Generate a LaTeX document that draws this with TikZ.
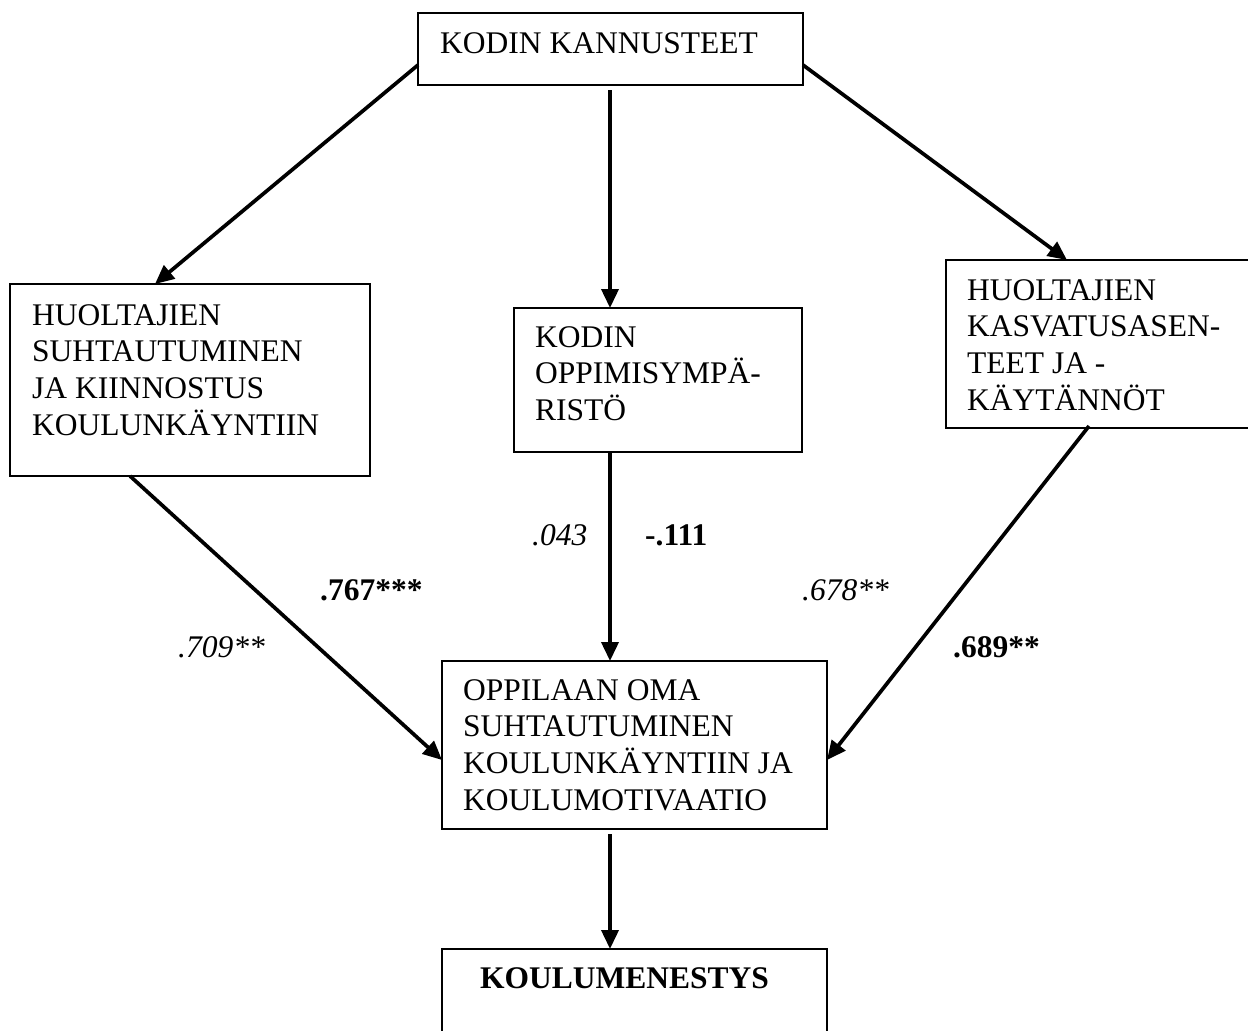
\documentclass[tikz,border=0pt]{standalone}
\usepackage{fontspec}
\setmainfont{Liberation Serif}
\usetikzlibrary{arrows.meta,calc}
\tikzset{
  box/.style={draw, line width=1.8pt, rectangle, inner sep=0pt, outer sep=0pt, anchor=north west},
  boxtext/.style={inner sep=0pt, anchor=base west},
  conn/.style={line width=3.7pt, -{Triangle[length=19pt,width=17pt]}},
  lbl/.style={inner sep=0pt, anchor=base west},
}
\newcommand{\lines}[1]{\begin{tabular}[t]{@{}l@{}}#1\end{tabular}}
\begin{document}
\begin{tikzpicture}[x=1pt,y=-1pt,font=\fontsize{31.5}{36.7}\selectfont]
\clip (0,0) rectangle (1248,1031);
\useasboundingbox (0,0) rectangle (1248,1031);
\fill[white] (0,0) rectangle (1248,1031);

% boxes
\node[box, minimum width=385pt, minimum height=72pt] (b0) at (418,13) {};
\node[box, minimum width=360pt, minimum height=192pt] (b1) at (10,284) {};
\node[box, minimum width=288pt, minimum height=144pt] (b2) at (514,308) {};
\node[box, minimum width=320pt, minimum height=168pt] (b3) at (946,260) {};
\node[box, minimum width=385pt, minimum height=168pt] (b4) at (442,661) {};
\node[box, minimum width=385pt, minimum height=120pt] (b5) at (442,949) {};

% box texts
\node[boxtext] (t0) at (440,53) {KODIN KANNUSTEET};
\node[boxtext] (t1) at (32,325) {\lines{HUOLTAJIEN\\SUHTAUTUMINEN\\JA KIINNOSTUS\\KOULUNKÄYNTIIN}};
\node[boxtext] (t2) at (535,347) {\lines{KODIN\\OPPIMISYMPÄ-\\RISTÖ}};
\node[boxtext] (t3) at (967,300) {\lines{HUOLTAJIEN\\KASVATUSASEN-\\TEET JA -\\KÄYTÄNNÖT}};
\node[boxtext] (t4) at (463,700) {\lines{OPPILAAN OMA\\SUHTAUTUMINEN\\KOULUNKÄYNTIIN JA\\KOULUMOTIVAATIO}};
\node[boxtext] (t5) at (480,988) {\bfseries KOULUMENESTYS};

% connectors
\draw[conn] ([yshift=-16pt]b0.west) -- ([xshift=-35pt]b1.north);
\draw[conn] ([xshift=-0.5pt,yshift=-5pt]b0.south) -- ([xshift=-48pt]b2.north);
\draw[conn] ([yshift=-16pt]b0.east) -- ([xshift=-39pt]b3.north);
\draw[conn] ([xshift=-60pt]b1.south) -- ([yshift=-15pt]b4.west);
\draw[conn] ([xshift=-48pt]b2.south) -- ([xshift=-24.5pt]b4.north);
\draw[conn] ([xshift=-17pt,yshift=2pt]b3.south) -- ([yshift=-15pt]b4.east);
\draw[conn] ([xshift=-24.5pt,yshift=-5pt]b4.south) -- ([xshift=-24.5pt]b5.north);

% labels
\node[lbl] (l1) at (532,545) {\itshape .043};
\node[lbl] (l2) at (645,545) {\bfseries -.111};
\node[lbl] (l3) at (320,600) {\bfseries .767***};
\node[lbl] (l4) at (178,657) {\itshape .709**};
\node[lbl] (l5) at (802,600) {\itshape .678**};
\node[lbl] (l6) at (953,657) {\bfseries .689**};
\end{tikzpicture}
\end{document}
